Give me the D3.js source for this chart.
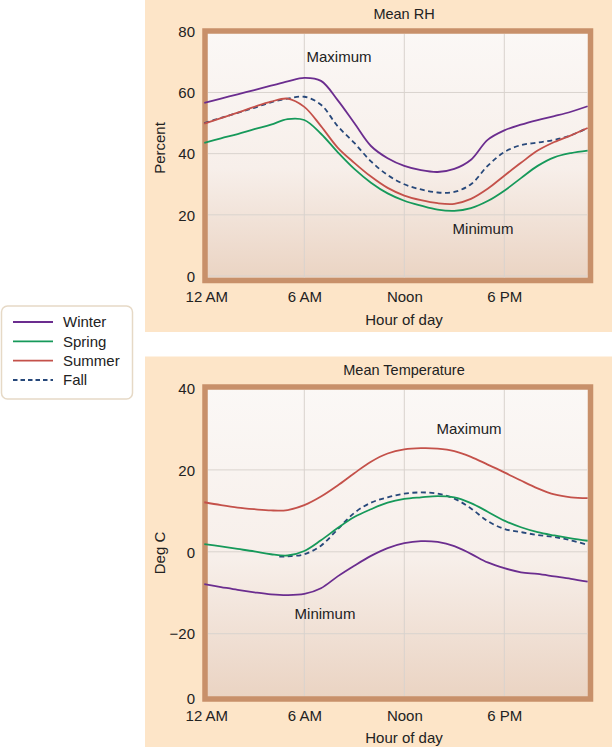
<!DOCTYPE html>
<html><head><meta charset="utf-8">
<script src="https://cdn.jsdelivr.net/npm/d3@7"></script>
<style>html,body{margin:0;padding:0;background:#fff;}svg{display:block;font-family:"Liberation Sans",Arial,sans-serif;}</style>
</head><body>
<svg id="c" width="612" height="747"></svg>
<script>
// ---- data ----
const hours = [0,1,2,3,4,5,6,7,8,9,10,11,12,13,14,15,16,17,18,19,20,21,22,23];
const xTickHours = [0, 6, 12, 18];
const xTickLabels = ["12 AM", "6 AM", "Noon", "6 PM"];
const seasons = ["Winter", "Spring", "Summer", "Fall"];

const rhWinter = [56.6,58,59.4,60.8,62.2,63.6,64.8,63.8,57.5,50,42.5,38.5,36,34.6,34,35,38,44.5,47.6,49.5,51,52.3,53.7,55.5];
const rhSpring = [43.5,45,46.4,48,49.5,51.3,51,46.5,40.5,35,30.5,27,24.6,23,21.7,21.3,22.2,24.5,27.9,32,36,38.8,40.2,41];
const rhSummer = [49.8,51.6,53.4,55.3,57,58,55.3,49,42,37,32.5,28.8,26.3,24.8,23.8,23.6,25.2,28.5,32.8,37,41,43.8,46,48.4];
const rhFall   = [50,51.7,53.3,55,56.8,58,58.6,56,49,43.5,37.5,33,30,28.3,27.3,27.5,30,36,40.5,42.8,43.6,44.5,46,48.4];
const rhTicks = [80, 60, 40, 20, 0];
const rhTickLabels = ["80", "60", "40", "20", "0"];

const tWinter = [-7.9,-8.6,-9.3,-9.9,-10.4,-10.6,-10.3,-8.9,-6,-3.4,-1,0.9,2.1,2.6,2.4,1.4,-0.5,-2.6,-4,-5,-5.4,-6,-6.6,-7.3];
const tSpring = [1.9,1.3,0.7,0.1,-0.6,-0.9,0.2,2.8,5.8,8.5,10.4,12,12.9,13.3,13.6,13.3,11.9,9.8,7.6,6,4.8,4,3.3,2.7];
const tSummer = [12.1,11.4,10.8,10.4,10.1,10.2,11.4,13.5,16.2,19.2,22,24,25,25.3,25.2,24.6,23.2,21.3,19.4,17.4,15.5,14,13.3,13.1];
const tFallHours = [4.5,5,6,7,8,9,10,11,12,13,14,15,16,17,18,19,20,21,22,23];
const tFall   = [-1.2,-1.1,-0.6,1.5,5.5,9.5,12,13.3,14.2,14.5,14.2,13,10.6,7.5,5.6,4.8,4.1,3.6,2.8,1.7];
const tTicks = [40, 20, 0, -20, -35.7];
const tTickLabels = ["40", "20", "0", "\u221220", "0"];

// ---- styles ----
const colors = {Winter:"#6b2d8f", Spring:"#16995a", Summer:"#c4514a", Fall:"#27487a"};
const panelFill = "#fde5c8", frameColor = "#c8906a", gridColor = "#d9d3ce";
const FS = 15;

const svg = d3.select("#c");
const defs = svg.append("defs");
const grad = defs.append("linearGradient").attr("id","pg").attr("x1",0).attr("y1",0).attr("x2",0).attr("y2",1);
grad.append("stop").attr("offset","0%").attr("stop-color","#fbf8f6");
grad.append("stop").attr("offset","55%").attr("stop-color","#f7efea");
grad.append("stop").attr("offset","100%").attr("stop-color","#ead3c2");

const x = d3.scaleLinear().domain([0, 24]).range([204.3, 604.3]);
const plotL = 205, plotR = 590.5;

function panel(cfg) {
  const g = svg.append("g");
  g.append("rect").attr("x",145).attr("y",cfg.panelTop).attr("width",467).attr("height",cfg.panelH).attr("fill",panelFill);
  const y = d3.scaleLinear().domain(cfg.domain).range(cfg.range);
  const top = cfg.plotTop, bot = cfg.plotBot;
  g.append("rect").attr("x",plotL).attr("y",top).attr("width",plotR-plotL).attr("height",bot-top)
    .attr("fill","url(#pg)").attr("stroke",frameColor).attr("stroke-width",5.5);
  // grid
  const gridY = cfg.ticks.filter(v => y(v) > top + 4 && y(v) < bot - 4);
  g.selectAll(".gy").data(gridY).join("line")
    .attr("x1",plotL+3).attr("x2",plotR-3).attr("y1",d=>y(d)).attr("y2",d=>y(d))
    .attr("stroke",gridColor).attr("stroke-width",1);
  g.selectAll(".gx").data(xTickHours.slice(1)).join("line")
    .attr("x1",d=>x(d)).attr("x2",d=>x(d)).attr("y1",top+3).attr("y2",bot-3)
    .attr("stroke",gridColor).attr("stroke-width",1);
  // y axis labels via d3 axis
  const yAxis = d3.axisLeft(y).tickValues(cfg.ticks).tickSize(0).tickPadding(0)
    .tickFormat((d,i) => cfg.tickLabels[i]);
  const ya = g.append("g").attr("transform","translate(195,0)").call(yAxis);
  ya.select(".domain").remove();
  ya.selectAll("text").attr("font-size",FS).attr("fill","#222").attr("font-family","'Liberation Sans',Arial,sans-serif")
    .attr("dy","0.35em");
  // x axis labels
  const xAxis = d3.axisBottom(x).tickValues(xTickHours).tickSize(0).tickPadding(0)
    .tickFormat((d,i)=>xTickLabels[i]);
  const xa = g.append("g").attr("transform",`translate(0,${cfg.xLabelY})`).call(xAxis);
  xa.select(".domain").remove();
  xa.selectAll("text").attr("font-size",FS).attr("fill","#222").attr("font-family","'Liberation Sans',Arial,sans-serif").attr("dy","0.35em");
  xa.selectAll(".tick").filter(d=>d===0).attr("transform",`translate(${x(0)+2.5},0)`);
  // titles
  g.append("text").attr("x",404).attr("y",cfg.titleY).attr("text-anchor","middle").attr("dy","0.35em")
    .attr("font-size",14.5).attr("fill","#222").text(cfg.title);
  g.append("text").attr("x",404).attr("y",cfg.xTitleY).attr("text-anchor","middle").attr("dy","0.35em")
    .attr("font-size",FS).attr("fill","#222").text("Hour of day");
  g.append("text").attr("transform",`translate(160,${cfg.yTitleY}) rotate(-90)`).attr("text-anchor","middle").attr("dy","0.35em")
    .attr("font-size",FS).attr("fill","#222").text(cfg.yTitle);
  // lines
  const line = d3.line().defined(d=>d[1]!=null).x(d=>x(d[0])).y(d=>y(d[1])).curve(d3.curveCatmullRom.alpha(0.5));
  cfg.series.forEach(s => {
    const pts = s.hours.map((h,i)=>[h, s.values[i]]);
    g.append("path").datum(pts).attr("d",line).attr("fill","none")
      .attr("stroke",colors[s.name]).attr("stroke-width",1.8)
      .attr("stroke-dasharray", s.name==="Fall" ? "5,3.5" : null);
  });
  cfg.notes.forEach(n => {
    g.append("text").attr("x",n.x).attr("y",n.y).attr("text-anchor","middle").attr("dy","0.35em")
      .attr("font-size",FS).attr("fill","#222").text(n.t);
  });
}

panel({
  panelTop:0, panelH:332, domain:[0,80], range:[276,31.3], plotTop:31, plotBot:280.5,
  ticks: rhTicks, tickLabels: rhTickLabels, xLabelY:297, titleY:14, xTitleY:320, yTitleY:148,
  title:"Mean RH", yTitle:"Percent",
  series:[
    {name:"Fall", hours:hours, values:rhFall},
    {name:"Spring", hours:hours, values:rhSpring},
    {name:"Summer", hours:hours, values:rhSummer},
    {name:"Winter", hours:hours, values:rhWinter}
  ],
  notes:[{t:"Maximum", x:339, y:57}, {t:"Minimum", x:483, y:229}]
});

panel({
  panelTop:356.5, panelH:390.5, domain:[-35.7,40], range:[698,388], plotTop:387, plotBot:699,
  ticks: tTicks, tickLabels: tTickLabels, xLabelY:716, titleY:370, xTitleY:738, yTitleY:553,
  title:"Mean Temperature", yTitle:"Deg C",
  series:[
    {name:"Summer", hours:hours, values:tSummer},
    {name:"Winter", hours:hours, values:tWinter},
    {name:"Fall", hours:tFallHours, values:tFall},
    {name:"Spring", hours:hours, values:tSpring}
  ],
  notes:[{t:"Maximum", x:469, y:429}, {t:"Minimum", x:325, y:614}]
});

// legend
const lg = svg.append("g");
lg.append("rect").attr("x",1.5).attr("y",306).attr("width",131).attr("height",93).attr("rx",6)
  .attr("fill","#fff").attr("stroke","#e6d9c6").attr("stroke-width",1.5);
const ly = d3.scalePoint().domain(seasons).range([322, 380]);
seasons.forEach(s => {
  lg.append("line").attr("x1",13).attr("x2",53).attr("y1",ly(s)).attr("y2",ly(s))
    .attr("stroke",colors[s]).attr("stroke-width",1.8).attr("stroke-dasharray", s==="Fall" ? "4.5,3" : null);
  lg.append("text").attr("x",63).attr("y",ly(s)).attr("dy","0.35em").attr("font-size",FS).attr("fill","#222").text(s);
});
</script>
</body></html>
